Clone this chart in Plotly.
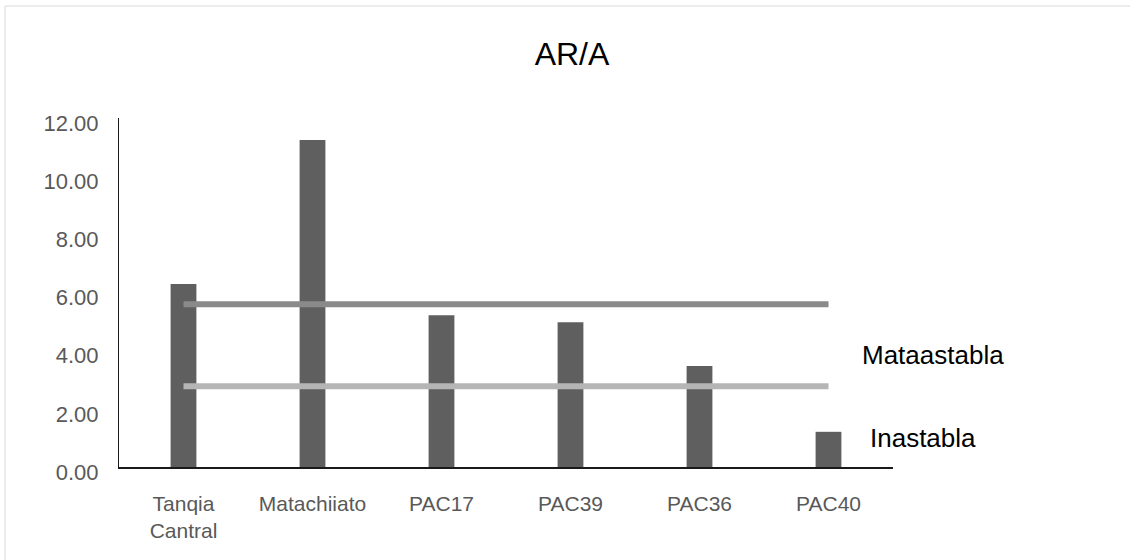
import plotly.graph_objects as go

# Categories and AR/A ratio per sample
categories = ["Tanqia<br>Cantral", "Matachiiato", "PAC17", "PAC39", "PAC36", "PAC40"]
ar_a_values = [6.29, 11.24, 5.22, 4.98, 3.47, 1.21]

# Stability thresholds drawn as horizontal reference lines
upper_limit = [5.6] * len(categories)
lower_limit = [2.78] * len(categories)

y_ticks = [0, 2, 4, 6, 8, 10, 12]

FONT = "Liberation Sans, Arial, sans-serif"

fig = go.Figure()

fig.add_trace(go.Bar(
    x=categories,
    y=ar_a_values,
    width=0.2,
    marker=dict(color="#5f5f5f", line=dict(width=0)),
    showlegend=False,
))

fig.add_trace(go.Scatter(
    x=categories,
    y=upper_limit,
    mode="lines",
    line=dict(color="#8a8a8a", width=6),
    showlegend=False,
))

fig.add_trace(go.Scatter(
    x=categories,
    y=lower_limit,
    mode="lines",
    line=dict(color="#b5b5b5", width=6),
    showlegend=False,
))

fig.update_layout(
    width=1130,
    height=560,
    margin=dict(l=119, r=237, t=118, b=93),
    paper_bgcolor="white",
    plot_bgcolor="white",
    font=dict(family=FONT, color="#595959"),
    title=dict(
        text="AR/A",
        x=572 / 1130,
        xanchor="center",
        xref="container",
        y=1 - 54 / 560,
        yanchor="middle",
        yref="container",
        font=dict(family=FONT, size=32, color="#000000"),
    ),
    bargap=0.8,
    xaxis=dict(
        showline=True,
        linecolor="#1a1a1a",
        linewidth=1.5,
        showgrid=False,
        ticks="",
        tickfont=dict(family=FONT, size=21, color="#595959"),
        ticklabelstandoff=17,
        zeroline=False,
    ),
    yaxis=dict(
        range=[0, 12],
        tickvals=y_ticks,
        tickformat=".2f",
        showline=True,
        linecolor="#1a1a1a",
        linewidth=1,
        showgrid=False,
        zeroline=False,
        ticks="",
        tickfont=dict(family=FONT, size=22, color="#595959"),
        ticklabelstandoff=15,
        ticklabelshift=5,
    ),
    annotations=[
        dict(
            text="Mataastabla",
            xref="paper", yref="paper",
            x=(860 - 119) / 774, y=(467 - 355) / 349,
            xanchor="left", yanchor="middle",
            showarrow=False,
            font=dict(family=FONT, size=26, color="#000000"),
        ),
        dict(
            text="Inastabla",
            xref="paper", yref="paper",
            x=(868 - 119) / 774, y=(467 - 438) / 349,
            xanchor="left", yanchor="middle",
            showarrow=False,
            font=dict(family=FONT, size=26, color="#000000"),
        ),
    ],
    shapes=[
        dict(
            type="rect",
            xref="paper", yref="paper",
            x0=(5 - 119) / 774, x1=(1140 - 119) / 774,
            y0=(467 - 570) / 349, y1=(467 - 6) / 349,
            line=dict(color="#d9d9d9", width=1),
            fillcolor="rgba(0,0,0,0)",
            layer="below",
        )
    ],
)

fig.write_html("out.html")
